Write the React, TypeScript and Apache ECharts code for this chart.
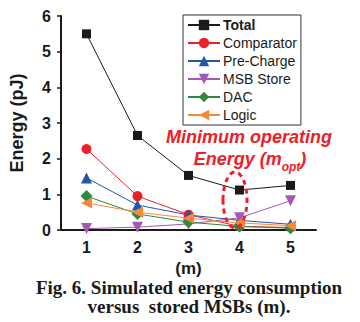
import React, { useEffect, useRef } from "react";
import * as echarts from "echarts";

const categories = ["1", "2", "3", "4", "5"];
const total = [5.5, 2.65, 1.53, 1.12, 1.25];
const comparator = [2.27, 0.95, 0.43, 0.1, 0.07];
const preCharge = [1.46, 0.7, 0.42, 0.27, 0.16];
const msbStore = [0.04, 0.08, 0.17, 0.34, 0.82];
const dac = [0.95, 0.45, 0.22, 0.1, 0.05];
const logic = [0.76, 0.5, 0.33, 0.2, 0.12];
const yTicks = [0, 1, 2, 3, 4, 5, 6];

const SANS = "Liberation Sans, Arial, sans-serif";
const SERIF = "Liberation Serif, Times New Roman, serif";
const RED = "#ec2028";

export default function App() {
  const ref = useRef<HTMLDivElement>(null);
  useEffect(() => {
    document.body.style.margin = "0";
    const chart = echarts.init(ref.current!, null, { renderer: "svg" });
    const mk = (name: string, data: number[], color: string, symbol: string, size: number, rotate = 0) => ({
      name,
      type: "line",
      data,
      symbol,
      symbolSize: size,
      symbolRotate: rotate,
      lineStyle: { color, width: 1 },
      itemStyle: { color },
      z: 3,
    });
    chart.setOption({
      animation: false,
      backgroundColor: "#ffffff",
      grid: { left: 48, top: 16, width: 268, height: 214, containLabel: false },
      xAxis: {
        type: "category",
        data: categories,
        boundaryGap: true,
        name: "(m)",
        nameLocation: "middle",
        nameGap: 29,
        nameTextStyle: { fontFamily: SANS, fontWeight: "bold", fontSize: 17, color: "#1a1a1a" },
        axisLine: { lineStyle: { color: "#1a1a1a", width: 2 } },
        axisTick: { alignWithLabel: true, length: 4, lineStyle: { color: "#1a1a1a", width: 1.5 } },
        axisLabel: { fontFamily: SANS, fontWeight: "bold", fontSize: 16, color: "#1a1a1a", margin: 9 },
        splitLine: { show: false },
      },
      yAxis: {
        type: "value",
        min: yTicks[0],
        max: yTicks[yTicks.length - 1],
        interval: 1,
        name: "Energy (pJ)",
        nameLocation: "middle",
        nameGap: 35,
        nameTextStyle: { fontFamily: SANS, fontWeight: "bold", fontSize: 18, color: "#1a1a1a" },
        axisLine: { show: true, lineStyle: { color: "#1a1a1a", width: 2 } },
        axisTick: { show: true, length: 4, lineStyle: { color: "#1a1a1a", width: 1.5 } },
        axisLabel: { fontFamily: SANS, fontWeight: "bold", fontSize: 16, color: "#1a1a1a", margin: 10 },
        splitLine: { show: false },
      },
      legend: {
        orient: "vertical",
        left: 183,
        top: 15,
        width: 116,
        padding: [3, 4, 3, 4],
        itemGap: 4,
        itemWidth: 32,
        itemHeight: 13,
        borderColor: "#333",
        borderWidth: 1,
        backgroundColor: "#fff",
        textStyle: { fontFamily: SANS, fontSize: 14, color: "#1a1a1a", padding: [0, 0, 0, -2] },
        data: [
          { name: "Total", textStyle: { fontWeight: "bold" } },
          "Comparator",
          "Pre-Charge",
          "MSB Store",
          "DAC",
          "Logic",
        ],
      },
      series: [
        mk("Comparator", comparator, RED, "circle", 10),
        mk("Pre-Charge", preCharge, "#2256a8", "triangle", 11),
        mk("MSB Store", msbStore, "#a45ab3", "triangle", 11, 180),
        mk("DAC", dac, "#2d8a3e", "diamond", 12),
        mk("Logic", logic, "#f7883a", "triangle", 11, 90),
        mk("Total", total, "#1a1a1a", "rect", 9),
      ],
      graphic: [
        {
          type: "ellipse",
          shape: { cx: 235, cy: 200, rx: 12, ry: 28 },
          style: { fill: "none", stroke: RED, lineWidth: 3, lineDash: [5, 4] },
          z: 10,
        },
        {
          type: "text",
          x: 249,
          y: 137,
          style: {
            text: "Minimum operating",
            font: `italic bold 18px ${SANS}`,
            fill: RED,
            align: "center",
            verticalAlign: "middle",
          },
          z: 10,
        },
        {
          type: "text",
          x: 250,
          y: 158,
          style: {
            text: "{a|Energy (m}{s|opt}{a|)}",
            fill: RED,
            align: "center",
            verticalAlign: "middle",
            rich: {
              a: { fontFamily: SANS, fontSize: 18, fontWeight: "bold", fontStyle: "italic", fill: RED, lineHeight: 20, verticalAlign: "bottom" },
              s: { fontFamily: SANS, fontSize: 12, fontWeight: "bold", fontStyle: "italic", fill: RED, lineHeight: 20, verticalAlign: "bottom", padding: [0, 0, -5, 0] },
            },
          },
          z: 10,
        },
        {
          type: "text",
          x: 189,
          y: 297,
          style: {
            text: "Fig. 6. Simulated energy consumption\nversus  stored MSBs (m).",
            font: `bold 19px ${SERIF}`,
            lineHeight: 19,
            fill: "#1a1a1a",
            align: "center",
            verticalAlign: "middle",
          },
        },
      ],
    });
    return () => chart.dispose();
  }, []);
  return <div ref={ref} style={{ position: "absolute", left: 0, top: 0, width: 360, height: 322 }} />;
}
